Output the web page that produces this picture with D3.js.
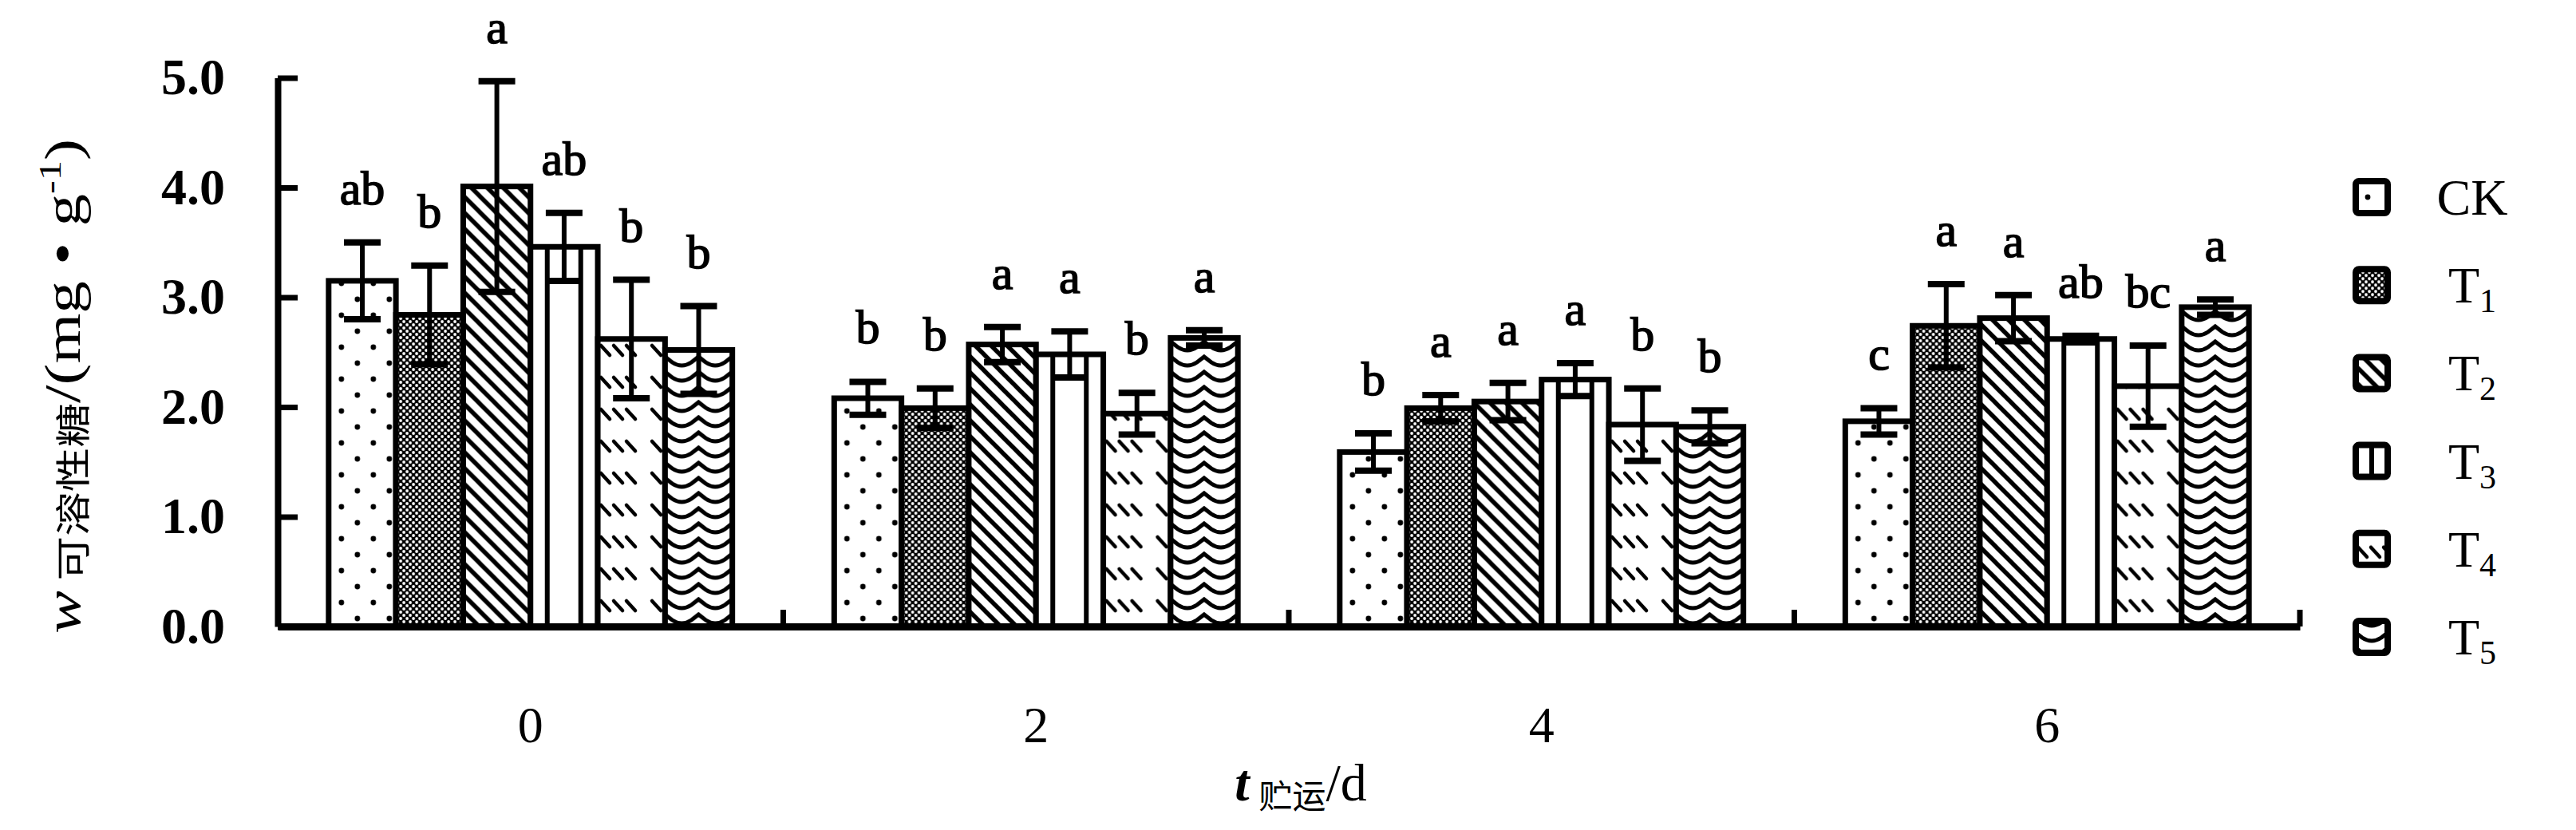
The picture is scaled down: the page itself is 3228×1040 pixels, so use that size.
<!DOCTYPE html>
<html><head><meta charset="utf-8">
<script src="https://cdn.jsdelivr.net/npm/d3@7"></script>
<style>body{margin:0;background:#fff}svg{display:block}</style>
</head><body>
<svg id="c" width="3228" height="1040"></svg>
<script>
// ---- data ----
const categories = ["0", "2", "4", "6"];
const series = ["CK", "T1", "T2", "T3", "T4", "T5"];
const yTicks = [0, 1, 2, 3, 4, 5];

const ckMean = [3.15, 2.08, 1.59, 1.87];
const t1Mean = [2.84, 1.99, 1.99, 2.74];
const t2Mean = [4.01, 2.57, 2.05, 2.81];
const t3Mean = [3.46, 2.48, 2.25, 2.62];
const t4Mean = [2.62, 1.94, 1.84, 2.19];
const t5Mean = [2.52, 2.63, 1.82, 2.91];

const ckErr = [0.35, 0.15, 0.17, 0.12];
const t1Err = [0.45, 0.18, 0.12, 0.38];
const t2Err = [0.96, 0.16, 0.17, 0.21];
const t3Err = [0.31, 0.21, 0.15, 0.03];
const t4Err = [0.54, 0.19, 0.33, 0.37];
const t5Err = [0.40, 0.07, 0.15, 0.07];

const ckSig = ["ab", "b", "b", "c"];
const t1Sig = ["b", "b", "a", "a"];
const t2Sig = ["a", "a", "a", "a"];
const t3Sig = ["ab", "a", "a", "ab"];
const t4Sig = ["b", "b", "b", "bc"];
const t5Sig = ["b", "a", "b", "a"];

const means = [ckMean, t1Mean, t2Mean, t3Mean, t4Mean, t5Mean];
const errs = [ckErr, t1Err, t2Err, t3Err, t4Err, t5Err];
const sigs = [ckSig, t1Sig, t2Sig, t3Sig, t4Sig, t5Sig];

const rows = categories.flatMap((c, i) => series.map((s, j) => ({
  c, s, m: means[j][i], e: errs[j][i], l: sigs[j][i]
})));

// ---- layout ----
const FONT = "'Liberation Serif','Times New Roman',serif";
const svg = d3.select("#c");
svg.append("rect").attr("width", 3228).attr("height", 1040).attr("fill", "#fff");
const defs = svg.append("defs");

const y = d3.scaleLinear().domain([0, 5]).range([785, 97.5]);
const x0 = d3.scaleBand().domain(categories).range([348, 2882]).padding(0);
const x1 = d3.scaleBand().domain(series).range([0, x0.bandwidth()]).paddingInner(0).paddingOuter(0.757);

function buildPattern(id, s, ox, oy) {
  const p = defs.append("pattern").attr("id", id)
    .attr("patternUnits", "userSpaceOnUse").attr("x", ox).attr("y", oy);
  const bg = (w, h, col) => p.append("rect").attr("width", w).attr("height", h).attr("fill", col);
  if (s === "CK") {
    p.attr("width", 40).attr("height", 40); bg(40, 40, "#fff");
    [[16, 10], [36, 30]].forEach(([cx, cy]) =>
      p.append("circle").attr("cx", cx).attr("cy", cy).attr("r", 3.4).attr("fill", "#000"));
  } else if (s === "T1") {
    p.attr("width", 8).attr("height", 8); bg(8, 8, "#000");
    [[2, 2], [6, 6]].forEach(([cx, cy]) =>
      p.append("circle").attr("cx", cx).attr("cy", cy).attr("r", 1.9).attr("fill", "#fff"));
  } else if (s === "T2") {
    p.attr("width", 20).attr("height", 20); bg(20, 20, "#fff");
    p.append("path").attr("d", "M-5,-5L25,25M-5,15L5,25M15,-5L25,5")
      .attr("stroke", "#000").attr("stroke-width", 5.5);
  } else if (s === "T3") {
    p.attr("width", 42).attr("height", 10); bg(42, 10, "#fff");
    p.append("rect").attr("x", 18).attr("y", 0).attr("width", 6).attr("height", 10).attr("fill", "#000");
  } else if (s === "T4") {
    p.attr("width", 64).attr("height", 40); bg(64, 40, "#fff");
    [4, 20, 36].forEach(x => p.append("line")
      .attr("x1", x).attr("y1", 8).attr("x2", x + 11).attr("y2", 20)
      .attr("stroke", "#000").attr("stroke-width", 4.5).attr("stroke-linecap", "round"));
  } else if (s === "T5") {
    p.attr("width", 42).attr("height", 19); bg(42, 19, "#fff");
    p.append("path").attr("d", "M-9,11L0,4L9,11Q21,19 33,11L42,4L51,11")
      .attr("fill", "none").attr("stroke", "#000").attr("stroke-width", 5);
  }
}

// ---- bars ----
const gBars = svg.append("g");
rows.forEach((d, k) => {
  const bx = x0(d.c) + x1(d.s);
  d.id = "pat" + k;
  buildPattern(d.id, d.s, bx, y(0));
});
gBars.selectAll("rect.bar").data(rows).join("rect").attr("class", "bar")
  .attr("x", d => x0(d.c) + x1(d.s))
  .attr("y", d => y(d.m))
  .attr("width", x1.bandwidth())
  .attr("height", d => y(0) - y(d.m))
  .attr("fill", d => `url(#${d.id})`)
  .attr("stroke", "#000").attr("stroke-width", 7);

// ---- error bars ----
const gErr = svg.append("g").attr("stroke", "#000");
const cx = d => x0(d.c) + x1(d.s) + x1.bandwidth() / 2;
gErr.selectAll("line.stem").data(rows).join("line").attr("class", "stem")
  .attr("x1", cx).attr("x2", cx)
  .attr("y1", d => y(d.m - d.e)).attr("y2", d => y(d.m + d.e))
  .attr("stroke-width", 6);
["top", "bot"].forEach(w => {
  gErr.selectAll("line.cap" + w).data(rows).join("line").attr("class", "cap" + w)
    .attr("x1", d => cx(d) - 23).attr("x2", d => cx(d) + 23)
    .attr("y1", d => y(w === "top" ? d.m + d.e : d.m - d.e))
    .attr("y2", d => y(w === "top" ? d.m + d.e : d.m - d.e))
    .attr("stroke-width", 8);
});

// ---- significance letters ----
svg.append("g").selectAll("text").data(rows).join("text")
  .attr("x", cx).attr("y", d => y(d.m + d.e) - 48)
  .attr("text-anchor", "middle")
  .attr("font-family", FONT).attr("font-size", 60)
  .attr("stroke", "#000").attr("stroke-width", 1.6)
  .text(d => d.l);

// ---- axes ----
const yAxis = d3.axisLeft(y).tickValues(yTicks).tickFormat(d3.format(".1f"))
  .tickSizeInner(-25).tickSizeOuter(0).tickPadding(66);
const gy = svg.append("g").attr("transform", "translate(348,0)").call(yAxis);
gy.select(".domain").attr("stroke-width", 8);
gy.selectAll(".tick line").attr("stroke-width", 7);
gy.selectAll(".tick text").attr("font-family", FONT).attr("font-size", 64)
  .attr("font-weight", "bold").attr("fill", "#000");

const xAxis = d3.axisBottom(x0).tickSize(0).tickPadding(100);
const gx = svg.append("g").attr("transform", "translate(0,785)").call(xAxis);
gx.select(".domain").attr("stroke-width", 9);
gx.selectAll(".tick text").attr("font-family", FONT).attr("font-size", 64).attr("fill", "#000");

// group separator ticks
svg.append("g").selectAll("line").data(categories).join("line")
  .attr("x1", d => x0(d) + x0.bandwidth()).attr("x2", d => x0(d) + x0.bandwidth())
  .attr("y1", 785).attr("y2", 764)
  .attr("stroke", "#000").attr("stroke-width", 7);

// ---- axis titles ----
const xt = svg.append("text").attr("x", 1630).attr("y", 1003)
  .attr("text-anchor", "middle").attr("font-family", FONT).attr("font-size", 66);
xt.append("tspan").attr("font-style", "italic").attr("font-weight", "bold").text("t");
xt.append("tspan").attr("font-size", 42).attr("dx", 12).attr("dy", 10).attr("font-family", "'Noto Sans CJK SC',sans-serif").text("贮运");
xt.append("tspan").attr("dy", -10).text("/d");

const yt = svg.append("text")
  .attr("transform", "translate(100,484) rotate(-90)")
  .attr("text-anchor", "middle").attr("font-family", FONT).attr("font-size", 64)
  .attr("textLength", 620).attr("lengthAdjust", "spacingAndGlyphs");
yt.append("tspan").attr("font-style", "italic").text("w");
yt.append("tspan").attr("font-size", 44).attr("dx", 10).attr("dy", 8).attr("font-family", "'Noto Sans CJK SC',sans-serif").text("可溶性糖");
yt.append("tspan").attr("dy", -8).text("/(mg • g");
yt.append("tspan").attr("font-size", 40).attr("dy", -24).text("-1");
yt.append("tspan").attr("dy", 24).text(")");

// ---- legend ----
const legendY = d3.scalePoint().domain(series).range([247, 798]);
const lg = svg.append("g");
series.forEach((s, j) => {
  const yy = legendY(s);
  const bx = 2972;
  buildPattern("leg" + j, s, bx - 21, yy - 10);
  lg.append("rect").attr("x", bx - 20).attr("y", yy - 20).attr("width", 40).attr("height", 40)
    .attr("rx", 4).attr("fill", `url(#leg${j})`).attr("stroke", "#000").attr("stroke-width", 8);
  const t = lg.append("text").attr("x", 3098).attr("y", yy + 22)
    .attr("text-anchor", "middle").attr("font-family", FONT).attr("font-size", 64);
  if (s === "CK") t.text("CK");
  else {
    t.append("tspan").text("T");
    t.append("tspan").attr("font-size", 42).attr("dy", 12).text(s.slice(1));
  }
});
</script>
</body></html>
